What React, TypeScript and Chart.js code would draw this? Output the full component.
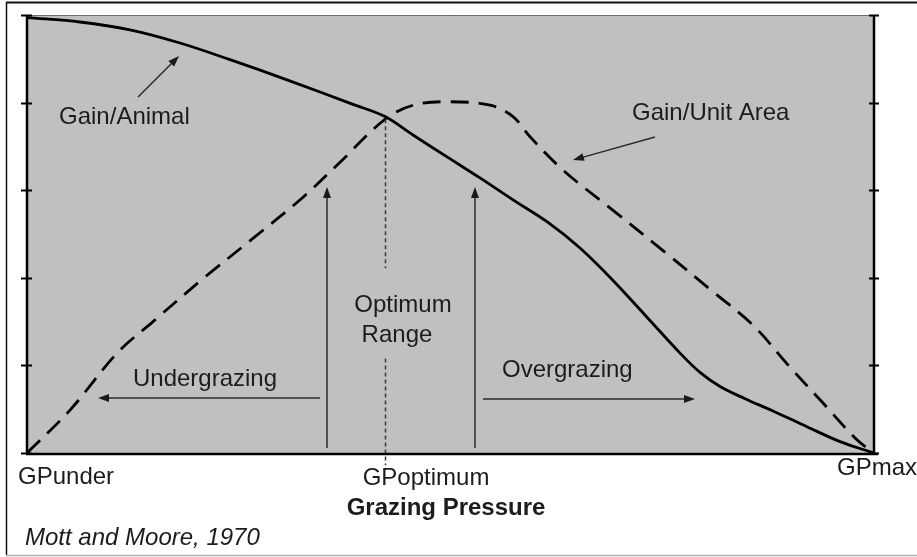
import React, { useEffect, useRef } from "react";
import { Chart, registerables } from "chart.js";

Chart.register(...registerables);

// Grazing pressure index (0 = GPunder, 100 = GPmax), relative gain (0..5)
const animalX = [0, 6.26, 12.16, 18.06, 23.97, 30.7, 38.49, 42.27, 45.57, 49.59, 53.48, 57.38, 61.39, 65.29, 69.19, 73.2, 77.1, 79.46, 81.82, 84.77, 88.08, 92.09, 95.99, 100];
const animalY = [4.97, 4.92, 4.83, 4.68, 4.49, 4.26, 3.98, 3.84, 3.63, 3.38, 3.14, 2.89, 2.64, 2.34, 1.97, 1.55, 1.14, 0.92, 0.76, 0.62, 0.48, 0.3, 0.13, 0];

const areaX = [0, 5.08, 10.63, 14.88, 20.78, 26.68, 32.59, 36.96, 42.27, 45.57, 49.59, 54.66, 57.38, 59.39, 63.28, 69.19, 75.09, 81.0, 85.71, 90.08, 93.98, 97.99, 100];
const areaY = [0, 0.49, 1.14, 1.5, 1.99, 2.45, 2.92, 3.32, 3.81, 3.97, 4.01, 3.97, 3.84, 3.61, 3.23, 2.77, 2.31, 1.84, 1.46, 0.98, 0.57, 0.15, 0];

const yTicks = [0, 1, 2, 3, 4, 5];
const xLabels = ["GPunder", "GPoptimum", "GPmax"];
const axisTitle = "Grazing Pressure";
const sourceNote = "Mott and Moore, 1970";
const optimumX = 42.27;

const FONT = '"Liberation Sans", Arial, Helvetica, sans-serif';
const TEXT = "#1c1c1c";

const decorPlugin = {
  id: "decor",
  beforeDraw(chart: any) {
    const { ctx, chartArea: a, width, height } = chart;
    ctx.save();
    ctx.fillStyle = "#ffffff";
    ctx.fillRect(0, 0, width, height);
    // outer frame
    ctx.strokeStyle = "#111";
    ctx.lineWidth = 2;
    ctx.beginPath();
    ctx.moveTo(6, 2.5);
    ctx.lineTo(width, 2.5);
    ctx.stroke();
    ctx.lineWidth = 1.5;
    ctx.beginPath();
    ctx.moveTo(6.5, 2);
    ctx.lineTo(6.5, 555);
    ctx.stroke();
    ctx.strokeStyle = "#b0b0b0";
    ctx.beginPath();
    ctx.moveTo(6, 555.5);
    ctx.lineTo(width, 555.5);
    ctx.stroke();
    // plot background
    ctx.fillStyle = "#c0c0c0";
    ctx.fillRect(a.left, a.top, a.right - a.left, a.bottom - a.top);
    ctx.strokeStyle = "#6a6a6a";
    ctx.lineWidth = 1;
    ctx.beginPath();
    ctx.moveTo(a.left, a.top + 0.5);
    ctx.lineTo(a.right, a.top + 0.5);
    ctx.stroke();
    ctx.restore();
  },
  afterDatasetsDraw(chart: any) {
    const { ctx, chartArea: a, scales } = chart;
    const xs = scales.x;
    const ys = scales.y;
    const X = (v: number) => xs.getPixelForValue(v);
    const Y = (v: number) => ys.getPixelForValue(v);
    ctx.save();

    // dotted optimum line
    ctx.strokeStyle = "#3a3a3a";
    ctx.lineWidth = 1.5;
    ctx.setLineDash([4, 3]);
    const ox = Math.round(X(optimumX)) + 0.5;
    ctx.beginPath();
    ctx.moveTo(ox, Y(3.81));
    ctx.lineTo(ox, Y(2.11));
    ctx.moveTo(ox, Y(1.08));
    ctx.lineTo(ox, Y(-0.14));
    ctx.stroke();
    ctx.setLineDash([]);

    // arrows
    const arrow = (x1: number, y1: number, x2: number, y2: number) => {
      const p1x = X(x1), p1y = Y(y1), p2x = X(x2), p2y = Y(y2);
      const ang = Math.atan2(p2y - p1y, p2x - p1x);
      const hl = 11, hw = 4;
      ctx.strokeStyle = "#2a2a2a";
      ctx.fillStyle = "#1a1a1a";
      ctx.lineWidth = 1.5;
      ctx.beginPath();
      ctx.moveTo(p1x, p1y);
      ctx.lineTo(p2x - Math.cos(ang) * hl * 0.8, p2y - Math.sin(ang) * hl * 0.8);
      ctx.stroke();
      ctx.beginPath();
      ctx.moveTo(p2x, p2y);
      ctx.lineTo(p2x - Math.cos(ang) * hl - Math.sin(ang) * hw, p2y - Math.sin(ang) * hl + Math.cos(ang) * hw);
      ctx.lineTo(p2x - Math.cos(ang) * hl + Math.sin(ang) * hw, p2y - Math.sin(ang) * hl - Math.cos(ang) * hw);
      ctx.closePath();
      ctx.fill();
    };
    arrow(13.11, 4.064, 17.95, 4.532);
    arrow(74.14, 3.607, 64.46, 3.345);
    arrow(34.59, 0.628, 8.38, 0.628);
    arrow(53.84, 0.616, 78.87, 0.616);
    arrow(35.42, 0.057, 35.42, 3.037);
    arrow(52.89, 0.057, 52.89, 3.037);

    // axes
    ctx.strokeStyle = "#000";
    ctx.lineWidth = 2.5;
    ctx.beginPath();
    ctx.moveTo(a.left, a.top);
    ctx.lineTo(a.left, a.bottom + 1);
    ctx.moveTo(a.right, a.top);
    ctx.lineTo(a.right, a.bottom + 1);
    ctx.moveTo(a.left - 1, a.bottom + 1);
    ctx.lineTo(a.right + 4, a.bottom + 1);
    ctx.stroke();
    ctx.lineWidth = 2;
    ctx.beginPath();
    yTicks.forEach((t) => {
      const py = Math.round(Y(t)) + 0.5;
      ctx.moveTo(a.left - 6, py);
      ctx.lineTo(a.left + 5, py);
      ctx.moveTo(a.right - 5, py);
      ctx.lineTo(a.right + 5, py);
    });
    ctx.stroke();

    // texts
    ctx.fillStyle = TEXT;
    ctx.textBaseline = "middle";
    const txt = (s: string, x: number, y: number, align: string, font = `24px ${FONT}`) => {
      ctx.font = font;
      ctx.textAlign = align;
      ctx.fillText(s, X(x), Y(y));
    };
    txt("Gain/Animal", 3.78, 3.836, "left");
    txt("Gain/Unit Area", 71.43, 3.881, "left");
    txt("Optimum", 44.39, 1.689, "center");
    txt("Range", 43.68, 1.347, "center");
    txt("Undergrazing", 12.51, 0.845, "left");
    txt("Overgrazing", 56.08, 0.947, "left");
    txt(xLabels[0], -1.06, -0.274, "left");
    txt(xLabels[1], 47.11, -0.285, "center");
    txt(xLabels[2], 95.63, -0.171, "left");
    txt(axisTitle, 49.47, -0.628, "center", `bold 24px ${FONT}`);
    txt(sourceNote, -0.236, -0.97, "left", `italic 24px ${FONT}`);
    ctx.restore();
  },
};

export default function App() {
  const ref = useRef<HTMLCanvasElement | null>(null);
  useEffect(() => {
    if (!ref.current) return;
    const chart = new Chart(ref.current, {
      type: "line",
      data: {
        datasets: [
          {
            label: "Gain/Animal",
            data: animalX.map((x, i) => ({ x, y: animalY[i] })),
            borderColor: "#000",
            borderWidth: 2.8,
            pointRadius: 0,
            fill: false,
            tension: 0.35,
          },
          {
            label: "Gain/Unit Area",
            data: areaX.map((x, i) => ({ x, y: areaY[i] })),
            borderColor: "#000",
            borderWidth: 2.8,
            borderDash: [18, 10],
            pointRadius: 0,
            fill: false,
            tension: 0.35,
          },
        ],
      },
      options: {
        responsive: false,
        animation: false,
        events: [],
        layout: { padding: { left: 27, right: 43, top: 15, bottom: 104 } },
        scales: {
          x: { type: "linear", min: 0, max: 100, display: false },
          y: { type: "linear", min: 0, max: 5, display: false },
        },
        plugins: { legend: { display: false }, tooltip: { enabled: false } },
      } as any,
      plugins: [decorPlugin as any],
    });
    return () => chart.destroy();
  }, []);
  return (
    <div style={{ position: "absolute", left: 0, top: 0, width: 917, height: 557, background: "#fff" }}>
      <canvas ref={ref} width={917} height={557} style={{ display: "block", width: 917, height: 557 }} />
    </div>
  );
}
